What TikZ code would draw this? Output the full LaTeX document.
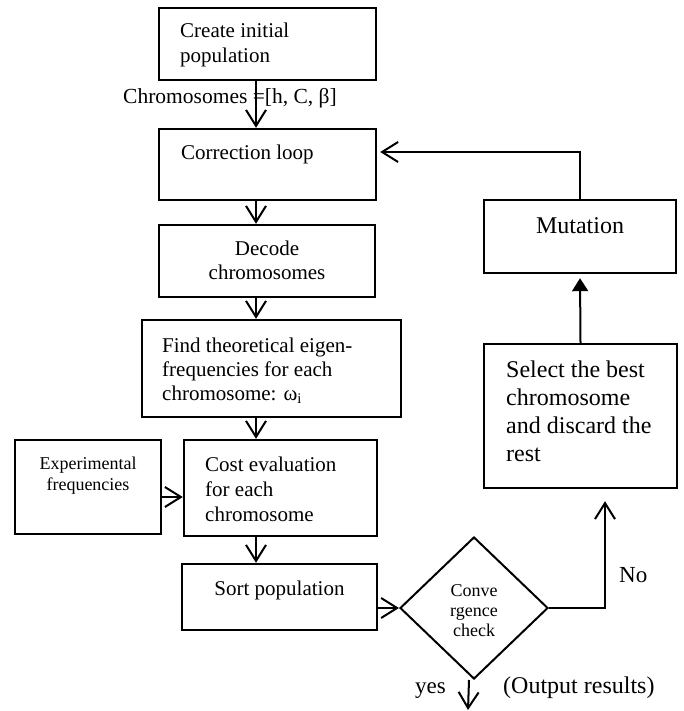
\documentclass[tikz,border=0pt]{standalone}
\usepackage{fontspec}
\setmainfont{Liberation Serif}
\usetikzlibrary{arrows.meta,shapes.geometric}
\begin{document}
\begin{tikzpicture}[x=1pt,y=-1pt,
  box/.style={draw,line width=2.4pt,inner sep=0pt,rectangle},
  arr/.style={line width=2pt,-{Straight Barb[length=16pt,width=20pt]}},
  farr/.style={line width=2pt,-{Triangle[length=13pt,width=16pt]}},
  tl/.style={inner sep=0pt,align=left,anchor=north west},
  tc/.style={inner sep=0pt,align=center,anchor=north},
  lb/.style={inner sep=0pt,anchor=base west},
  fa/.style={font=\fontsize{21}{25}\selectfont},
  fb/.style={font=\fontsize{21}{24}\selectfont},
  fs/.style={font=\fontsize{18}{21}\selectfont},
  fd/.style={font=\fontsize{18}{20}\selectfont},
  fl/.style={font=\fontsize{24}{28}\selectfont}]
\fill[white] (0,0) rectangle (683,711);
\useasboundingbox (0,0) rectangle (683,711);
\coordinate (col) at (256,0);
% boxes
\node[box,minimum width=217pt,minimum height=72pt] (b1) at (267.5,44) {};
\node[box,minimum width=217pt,minimum height=71pt] (b2) at (267.5,164.5) {};
\node[box,minimum width=216pt,minimum height=72pt] (b3) at (267,261) {};
\node[box,minimum width=259pt,minimum height=97pt] (b4) at (271.5,368.5) {};
\node[box,minimum width=146pt,minimum height=94pt] (b5) at (88,487) {};
\node[box,minimum width=193pt,minimum height=96pt] (b6) at (280.5,488) {};
\node[box,minimum width=195pt,minimum height=66pt] (b7) at (279.5,597) {};
\node[box,minimum width=193pt,minimum height=144pt] (sel) at (580.5,416) {};
\node[box,minimum width=192pt,minimum height=73pt] (mut) at (580,236.5) {};
\node[draw,diamond,line width=2pt,inner sep=0pt,minimum width=148pt,minimum height=142pt] (d) at (474,608) {};
\coordinate (out) at (468,710);
% texts
\node[tl,fa] (t1) at (180,22.5) {Create initial\\population};
\node[tl,fa] (t2) at (181,144.5) {Correction loop};
\node[tc,fb] (t3) at (267,240.5) {Decode\\chromosomes};
\node[tl,fb] (t4) at (162,337.5) {Find theoretical eigen-\\frequencies for each\\chromosome: ω\textsubscript{i}};
\node[tc,fs] (t5) at (88,456.6) {Experimental\\frequencies};
\node[tl,fa] (t6) at (205,456.5) {Cost evaluation\\for each\\chromosome};
\node[tc,fa] (t7) at (279.5,580.5) {Sort population};
\node[tl,fl] (t8) at (506,360.4) {Select the best\\chromosome\\and discard the\\rest};
\node[tc,fl] (t9) at (580,217.4) {Mutation};
\node[tc,fd] (t10) at (474,584.6) {Conve\\rgence\\check};
\node[lb,font=\fontsize{21.5}{25}\selectfont] (lc) at (123,104) {Chromosomes =[h, C, β]};
\node[lb,font=\fontsize{23}{27}\selectfont] (lno) at (619,582) {No};
\node[lb,font=\fontsize{23}{27}\selectfont] (lyes) at (415,693) {yes};
\node[lb,font=\fontsize{24}{28}\selectfont] (lout) at (503,693) {(Output results)};
% connectors
\draw[arr] (b1.south -| col) -- (b2.north -| col);
\draw[arr] (b2.south -| col) -- (b3.north -| col);
\draw[arr] (b3.south -| col) -- (b4.north -| col);
\draw[arr] (b4.south -| col) -- (b6.north -| col);
\draw[arr] (b6.south -| col) -- (b7.north -| col);
\draw[arr] ([yshift=-10pt]b5.east) -- ([yshift=-9pt]b6.west);
\draw[arr] (b7.east |- d.west) -- (d.west);
\draw[arr,shorten >=12pt] (d.east) -| ([xshift=24.5pt]sel.south);
\draw[farr,shorten >=4pt] (sel.north) -- (mut.south);
\draw[arr,shorten >=3pt] (mut.north) |- ([yshift=12.5pt]b2.east);
\draw[arr] ([xshift=-5pt]d.south) -- (out);
\end{tikzpicture}
\end{document}
